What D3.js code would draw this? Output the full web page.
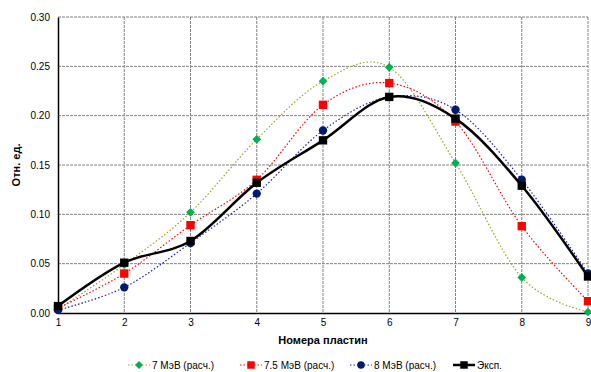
<!DOCTYPE html>
<html><head><meta charset="utf-8">
<script src="https://cdn.jsdelivr.net/npm/d3@7"></script>
<style>body{margin:0;background:#fff}svg{display:block;font-family:"Liberation Sans",Arial,sans-serif}</style>
</head><body><svg id="c" width="591" height="372"></svg>
<script>
const plates = [1,2,3,4,5,6,7,8,9];
const yTicks = [0,0.05,0.10,0.15,0.20,0.25,0.30];
const s7  = [0.004,0.049,0.102,0.176,0.235,0.249,0.152,0.036,0.001];
const s75 = [0.005,0.040,0.089,0.135,0.211,0.233,0.194,0.088,0.012];
const s8  = [0.003,0.026,0.071,0.121,0.185,0.219,0.206,0.135,0.040];
const sExp= [0.007,0.051,0.073,0.132,0.175,0.219,0.197,0.129,0.037];
const names = ["7 МэВ (расч.)","7.5 МэВ (расч.)","8 МэВ (расч.)","Эксп."];

const svg = d3.select("#c");
const L=58,R=588,T=17,B=313;
const x = d3.scaleLinear().domain([1,9]).range([L,R]);
const y = d3.scaleLinear().domain([0,0.30]).range([B,T]);

// grid
const g = svg.append("g");
g.selectAll(".vg").data(plates.slice(1)).enter().append("line")
 .attr("x1",d=>x(d)).attr("x2",d=>x(d)).attr("y1",T).attr("y2",B)
 .attr("stroke","#808080").attr("stroke-width",1).attr("stroke-dasharray","3,1");
g.selectAll(".hg").data(yTicks.slice(1)).enter().append("line")
 .attr("x1",L).attr("x2",R).attr("y1",d=>y(d)).attr("y2",d=>y(d))
 .attr("stroke","#808080").attr("stroke-width",1).attr("stroke-dasharray","3,1");

// axes
const ya = d3.axisLeft(y).tickValues(yTicks).tickFormat(d3.format(".2f")).tickSize(0).tickPadding(8);
svg.append("g").attr("transform",`translate(${L},0)`).call(ya)
 .call(a=>{a.select(".domain").attr("stroke","#000").attr("stroke-width",1.5);a.selectAll("text").attr("font-size",10).attr("fill","#000").attr("font-family","Liberation Sans, Arial")});
const xa = d3.axisBottom(x).tickValues(plates).tickFormat(d3.format("d")).tickSize(0).tickPadding(6);
svg.append("g").attr("transform",`translate(0,${B})`).call(xa)
 .call(a=>{a.select(".domain").attr("stroke","#000").attr("stroke-width",1.5);a.selectAll("text").attr("font-size",10).attr("fill","#000").attr("font-family","Liberation Sans, Arial")});

svg.append("text").attr("x",323).attr("y",344).attr("text-anchor","middle")
 .attr("font-size",11).attr("font-weight","bold").text("Номера пластин");
svg.append("text").attr("transform","translate(20,165) rotate(-90)").attr("text-anchor","middle")
 .attr("font-size",11).attr("font-weight","bold").text("Отн. ед.");

const series = [
 {v:s7, line:"#a0a020", mk:"#00b050", shape:d3.symbolSquare, rot:45, size:38, w:1.2, dash:"1.5,2"},
 {v:s75,line:"#ff0000", mk:"#ff0000", shape:d3.symbolSquare, rot:0, size:70, w:1.2, dash:"1.5,2"},
 {v:s8, line:"#1f1f9f", mk:"#001a70", shape:d3.symbolCircle, rot:0, size:55, w:1.2, dash:"1.5,2"},
 {v:sExp,line:"#000000",mk:"#000000", shape:d3.symbolSquare, rot:0, size:70, w:2.5, dash:null}
];
const line = d3.line().x((d,i)=>x(plates[i])).y(d=>y(d)).curve(d3.curveCatmullRom.alpha(0));
series.forEach(s=>{
  const p = svg.append("path").datum(s.v).attr("d",line).attr("fill","none")
   .attr("stroke",s.line).attr("stroke-width",s.w);
  if(s.dash) p.attr("stroke-dasharray",s.dash);
  svg.selectAll(null).data(s.v).enter().append("path")
   .attr("d",d3.symbol().type(s.shape).size(s.size))
   .attr("transform",(d,i)=>`translate(${x(plates[i])},${y(d)}) rotate(${s.rot})`)
   .attr("fill",s.mk);
});

// legend
const lx=[128,240,350,453];
series.forEach((s,i)=>{
  const lg = svg.append("g").attr("transform",`translate(${lx[i]},365)`);
  const ln = lg.append("line").attr("x1",0).attr("x2",22).attr("y1",0).attr("y2",0)
   .attr("stroke",s.line).attr("stroke-width",s.w);
  if(s.dash) ln.attr("stroke-dasharray",s.dash);
  lg.append("path").attr("d",d3.symbol().type(s.shape).size(s.size*0.8)).attr("transform",`translate(11,0) rotate(${s.rot})`).attr("fill",s.mk);
  lg.append("text").attr("x",24).attr("y",4).attr("font-size",10).text(names[i]);
});
</script></body></html>
